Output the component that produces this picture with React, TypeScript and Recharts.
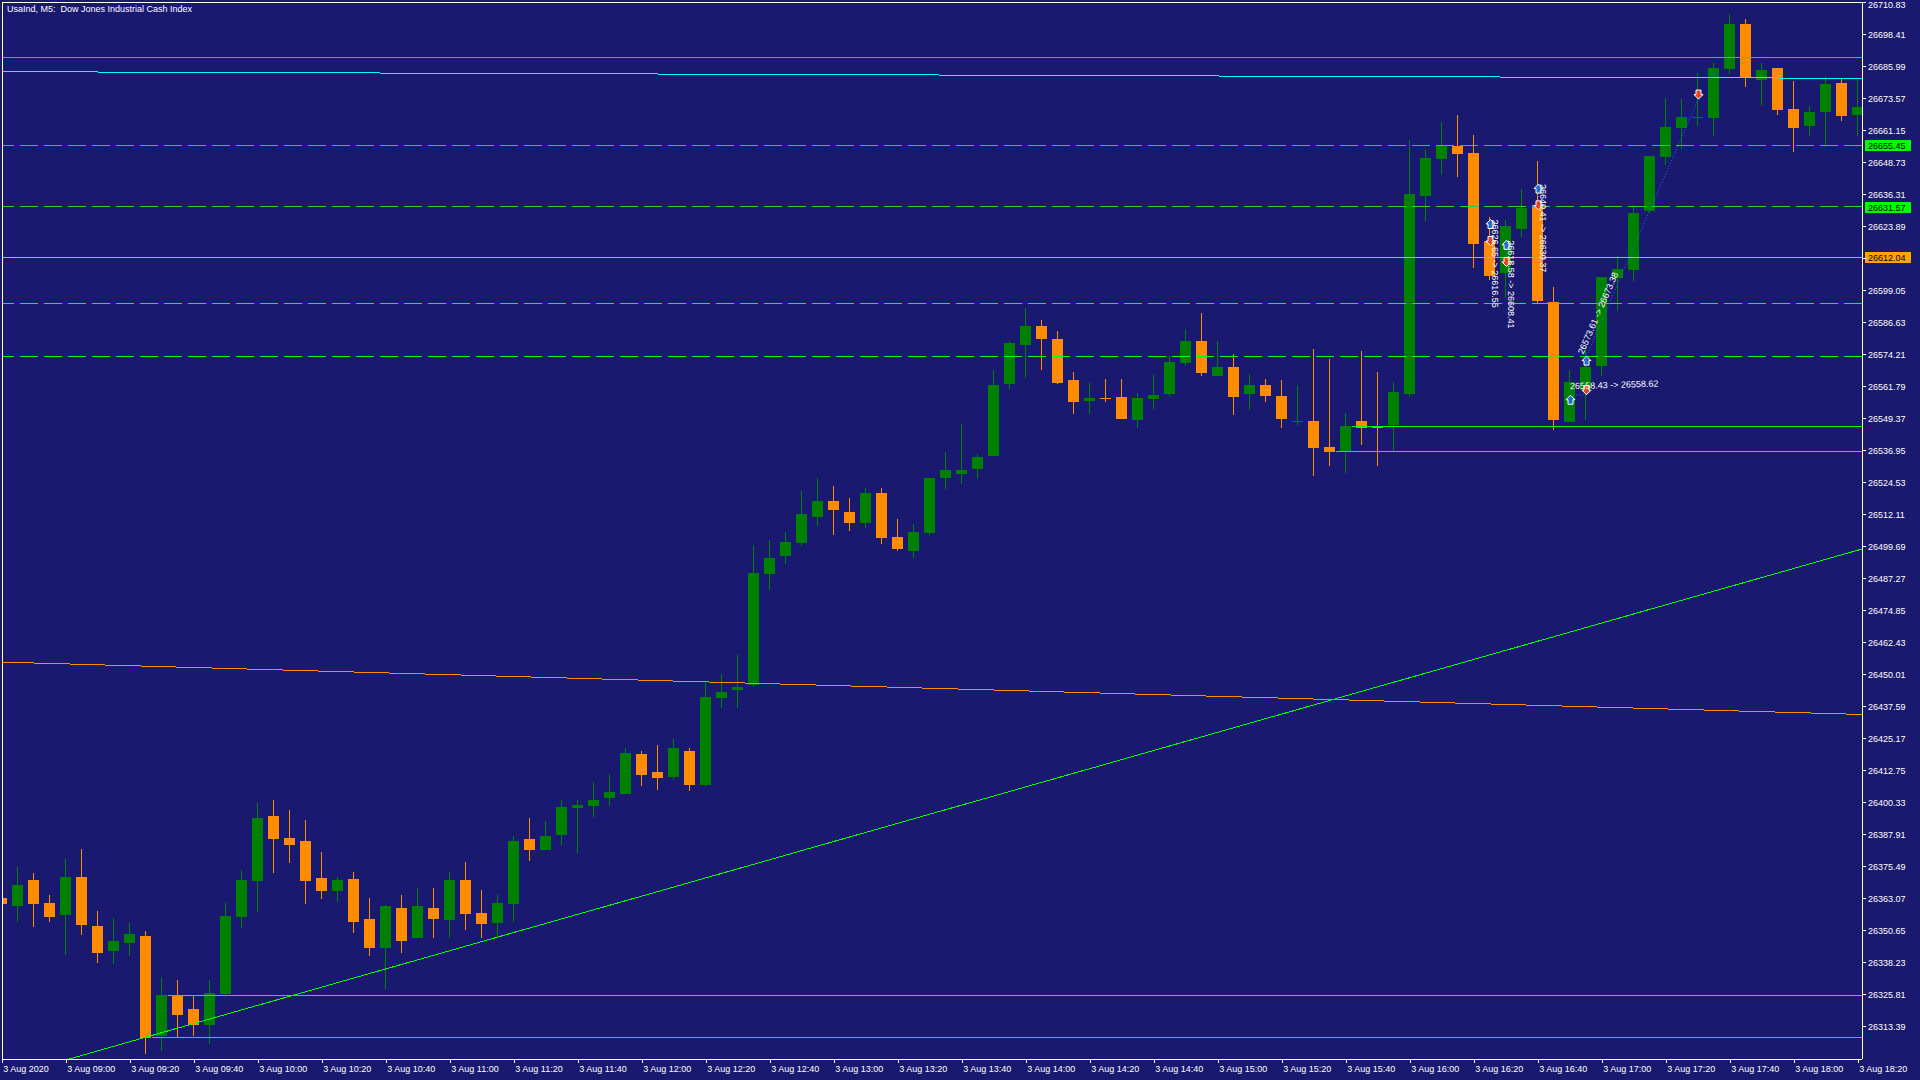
import React from 'react';
import { ComposedChart, Bar, XAxis, YAxis, ReferenceLine, ReferenceDot } from 'recharts';

const BG = '#191970';
const UP = '#008000';
const DOWN = '#FF8C00';
const FONT = '"Liberation Sans", Arial, sans-serif';
const LIME = '#32CD32';
const BRIGHT = '#00FF00';

// ---- candle data (M5 bars, 3 Aug 08:40 .. 18:20) ----
const opens = [
  26363.27, 26360.17, 26370.26, 26361.33, 26356.67, 26371.42, 26352.40, 26342.70, 26345.80, 26348.52,
  26309.70, 26325.35, 26320.18, 26313.97, 26326.01, 26355.90, 26369.87, 26395.22, 26386.56, 26385.40,
  26371.03, 26365.99, 26370.65, 26355.12, 26343.86, 26359.39, 26347.74, 26359.39, 26354.73, 26370.26,
  26357.45, 26353.68, 26361.06, 26386.17, 26382.02, 26387.84, 26398.32, 26399.10, 26402.20, 26403.76,
  26419.17, 26412.18, 26410.36, 26420.33, 26407.25, 26441.02, 26444.13, 26445.95, 26489.04, 26496.02,
  26501.07, 26511.16, 26517.37, 26513.10, 26508.83, 26520.48, 26503.40, 26497.97, 26504.95, 26526.30,
  26527.85, 26529.80, 26534.84, 26562.79, 26577.93, 26585.30, 26580.26, 26564.34, 26556.19, 26557.36,
  26557.74, 26548.82, 26556.97, 26558.91, 26570.94, 26579.48, 26565.89, 26569.39, 26558.91, 26562.40,
  26558.13, 26548.04, 26548.43, 26538.33, 26536.78, 26548.43, 26546.49, 26546.87, 26558.91, 26635.77,
  26650.13, 26655.17, 26652.46, 26618.30, 26605.88, 26622.96, 26632.27, 26594.62, 26548.04, 26560.46,
  26569.78, 26603.94, 26607.04, 26629.94, 26650.90, 26662.16, 26666.24, 26666.04, 26685.06, 26702.53,
  26680.79, 26685.45, 26669.54, 26662.94, 26668.37, 26679.63, 26667.21,
];
const highs = [
  26363.66, 26375.19, 26372.97, 26364.43, 26378.41, 26382.29, 26358.22, 26355.51, 26353.57, 26350.46,
  26332.61, 26331.44, 26325.35, 26331.44, 26361.21, 26374.14, 26400.15, 26401.31, 26397.43, 26393.55,
  26381.13, 26371.42, 26373.36, 26363.27, 26360.55, 26364.43, 26367.15, 26367.15, 26373.36, 26377.24,
  26366.38, 26364.43, 26387.34, 26394.32, 26393.16, 26401.31, 26401.31, 26408.30, 26411.40, 26421.50,
  26420.33, 26422.66, 26424.99, 26421.50, 26447.39, 26450.22, 26457.60, 26500.29, 26502.24, 26505.34,
  26521.26, 26526.30, 26523.20, 26518.54, 26522.42, 26522.42, 26510.39, 26508.45, 26526.30, 26536.39,
  26547.26, 26535.62, 26568.22, 26579.48, 26592.29, 26587.63, 26583.36, 26567.45, 26563.18, 26564.73,
  26564.73, 26559.30, 26566.28, 26573.66, 26584.14, 26590.35, 26579.48, 26574.43, 26566.67, 26564.73,
  26564.34, 26562.40, 26576.38, 26572.49, 26551.53, 26575.60, 26567.45, 26563.57, 26657.50, 26653.62,
  26664.49, 26667.21, 26659.44, 26627.61, 26626.45, 26638.48, 26649.35, 26600.44, 26568.22, 26577.15,
  26604.32, 26612.48, 26632.27, 26651.29, 26673.81, 26673.42, 26683.51, 26687.39, 26706.41, 26704.47,
  26687.39, 26685.45, 26680.40, 26670.70, 26682.35, 26681.57, 26680.79,
];
const lows = [
  26360.55, 26354.07, 26352.13, 26354.07, 26341.26, 26348.91, 26338.16, 26337.77, 26340.87, 26302.83,
  26304.00, 26309.04, 26309.70, 26306.71, 26324.84, 26351.63, 26357.84, 26372.97, 26376.86, 26360.94,
  26362.88, 26361.72, 26349.68, 26340.76, 26327.95, 26341.92, 26347.74, 26347.74, 26347.74, 26350.85,
  26347.86, 26348.25, 26354.07, 26377.75, 26382.02, 26383.96, 26380.85, 26394.83, 26399.10, 26403.76,
  26406.86, 26405.31, 26409.19, 26404.92, 26406.86, 26437.14, 26437.14, 26445.17, 26482.94, 26493.04,
  26499.91, 26507.67, 26504.18, 26505.73, 26506.89, 26500.68, 26497.97, 26495.25, 26504.18, 26522.03,
  26523.97, 26525.91, 26534.84, 26560.85, 26565.12, 26568.22, 26562.79, 26551.14, 26551.14, 26555.80,
  26549.20, 26545.71, 26553.09, 26558.13, 26569.78, 26565.89, 26565.89, 26550.76, 26552.70, 26555.80,
  26545.71, 26546.87, 26527.08, 26530.96, 26528.24, 26539.11, 26530.96, 26536.78, 26557.74, 26626.06,
  26643.92, 26643.14, 26607.82, 26603.16, 26596.17, 26619.85, 26593.84, 26544.93, 26548.04, 26548.82,
  26565.89, 26591.13, 26602.77, 26629.17, 26647.80, 26654.01, 26662.94, 26659.06, 26683.12, 26678.08,
  26671.09, 26667.21, 26652.84, 26659.06, 26654.79, 26664.88, 26659.06,
];
const closes = [
  26360.94, 26368.32, 26360.94, 26356.01, 26371.42, 26352.79, 26341.92, 26346.46, 26349.30, 26308.93,
  26325.62, 26317.85, 26313.97, 26326.39, 26356.28, 26370.26, 26394.32, 26386.17, 26383.84, 26369.87,
  26365.99, 26370.26, 26353.95, 26343.86, 26360.17, 26346.58, 26360.17, 26355.12, 26370.26, 26357.06,
  26353.29, 26361.33, 26385.40, 26382.02, 26387.34, 26398.59, 26399.37, 26401.31, 26404.42, 26419.56,
  26411.13, 26409.97, 26421.50, 26407.25, 26441.29, 26443.23, 26445.17, 26489.43, 26495.25, 26501.46,
  26512.33, 26517.37, 26513.88, 26508.83, 26520.48, 26503.01, 26498.74, 26505.34, 26526.30, 26529.41,
  26529.41, 26534.45, 26562.40, 26578.70, 26585.30, 26580.26, 26563.18, 26555.80, 26557.36, 26556.97,
  26549.20, 26557.36, 26558.52, 26571.33, 26579.48, 26567.06, 26569.39, 26557.74, 26562.40, 26558.13,
  26549.20, 26548.43, 26537.95, 26536.39, 26546.49, 26545.71, 26545.71, 26559.68, 26636.54, 26650.52,
  26655.17, 26652.07, 26617.13, 26604.71, 26624.12, 26631.11, 26595.01, 26548.82, 26563.57, 26569.39,
  26604.32, 26607.43, 26629.17, 26651.29, 26662.55, 26666.43, 26666.35, 26685.45, 26702.53, 26681.96,
  26684.67, 26669.15, 26662.16, 26668.37, 26679.24, 26666.82, 26670.31,
];

// ---- axes ----
const timeTickIdx = [0, 4, 8, 12, 16, 20, 24, 28, 32, 36, 40, 44, 48, 52, 56, 60, 64, 68, 72, 76, 80, 84, 88, 92, 96, 100, 104, 108, 112, 116];
const timeTickLabels = [
  '3 Aug 2020', '3 Aug 09:00', '3 Aug 09:20', '3 Aug 09:40', '3 Aug 10:00', '3 Aug 10:20', '3 Aug 10:40',
  '3 Aug 11:00', '3 Aug 11:20', '3 Aug 11:40', '3 Aug 12:00', '3 Aug 12:20', '3 Aug 12:40', '3 Aug 13:00',
  '3 Aug 13:20', '3 Aug 13:40', '3 Aug 14:00', '3 Aug 14:20', '3 Aug 14:40', '3 Aug 15:00', '3 Aug 15:20',
  '3 Aug 15:40', '3 Aug 16:00', '3 Aug 16:20', '3 Aug 16:40', '3 Aug 17:00', '3 Aug 17:20', '3 Aug 17:40',
  '3 Aug 18:00', '3 Aug 18:20',
];
const priceTicks = [
  26710.83, 26698.41, 26685.99, 26673.57, 26661.15, 26648.73, 26636.31, 26623.89, 26611.47, 26599.05,
  26586.63, 26574.21, 26561.79, 26549.37, 26536.95, 26524.53, 26512.11, 26499.69, 26487.27, 26474.85,
  26462.43, 26450.01, 26437.59, 26425.17, 26412.75, 26400.33, 26387.91, 26375.49, 26363.07, 26350.65,
  26338.23, 26325.81, 26313.39,
];
const X_MIN = -0.01875;
const X_MAX = 116.23125;
const Y_MIN = 26300.78;
const Y_MAX = 26711.07;

// ---- horizontal levels ----
const levelPrices = [26689.60, 26655.45, 26631.57, 26612.04, 26594.07, 26573.50];
const levelColors = [LIME, LIME, LIME, '#FFA500', BRIGHT, BRIGHT];
const levelDashed = [false, true, true, false, true, true];

const partialStart = [84.34, 83.34, 10.34, 9.34];
const partialPrices = [26546.37, 26536.66, 26325.50, 26309.20];

// boxed price labels on the axis
const boxPrices = [26655.45, 26631.57, 26612.04];
const boxColors = [BRIGHT, BRIGHT, '#FFA500'];

// ---- trend lines ----
const trendStartIdx = [4.175, X_MIN, X_MIN];
const trendStartPrice = [26300.78, 26454.84, 26684.03];
const trendEndIdx = [X_MAX, X_MAX, X_MAX];
const trendEndPrice = [26498.74, 26434.52, 26681.45];
const trendColors = [BRIGHT, DOWN, '#00FFFF'];

// ---- trades ----
const tradeOpenIdx = [93, 94, 96, 98, 99];
const tradeOpenPrice = [26626.65, 26618.58, 26640.41, 26558.43, 26573.61];
const tradeCloseIdx = [93, 94, 96, 99, 106];
const tradeClosePrice = [26616.55, 26608.41, 26630.37, 26558.62, 26673.38];

const data = opens.map((o, i) => ({
  idx: i,
  open: o,
  high: highs[i],
  low: lows[i],
  close: closes[i],
  range: [lows[i], highs[i]],
}));

const px = (v: number) => Math.floor(v + 0.01) + 0.5;

const Candle = (props: any) => {
  const { x, y, width, height, payload } = props;
  if (x == null || y == null || !payload) return null;
  const top = Math.min(y, y + height);
  const bot = Math.max(y, y + height);
  const span = payload.high - payload.low;
  const ppu = span > 0 ? (bot - top) / span : 0;
  const yO = top + (payload.high - payload.open) * ppu;
  const yC = top + (payload.high - payload.close) * ppu;
  const color = payload.close >= payload.open ? UP : DOWN;
  const cx = x + width / 2;
  const bx = Math.round(cx - 5.5);
  const wx = Math.floor(cx);
  const bTop = Math.round(Math.min(yO, yC));
  const bBot = Math.round(Math.max(yO, yC));
  const wTop = Math.round(top);
  const wBot = Math.round(bot);
  return (
    <g shapeRendering="crispEdges">
      <rect x={wx} y={wTop} width={1} height={Math.max(1, wBot - wTop)} fill={color} />
      <rect x={bx} y={bTop} width={11} height={Math.max(1, bBot - bTop)} fill={color} />
    </g>
  );
};

const hShape = (color: string, dash?: string) => (p: any) => {
  const y = px(p.y1);
  return (
    <line x1={p.x1} x2={p.x2} y1={y} y2={y} stroke={color} strokeWidth={1}
      strokeDasharray={dash} shapeRendering="crispEdges" />
  );
};
const vShape = (color: string) => (p: any) => {
  const x = px(p.x1);
  return <line x1={x} x2={x} y1={p.y1} y2={p.y2} stroke={color} strokeWidth={1} shapeRendering="crispEdges" />;
};
const dShape = (color: string) => (p: any) => (
  <line x1={p.x1} x2={p.x2} y1={p.y1} y2={p.y2} stroke={color} strokeWidth={1} shapeRendering="crispEdges" />
);

const upArrow = (x: number, y: number) =>
  `M${x},${y} l4.5,4.5 h-2 v4.5 h-5 v-4.5 h-2 z`;
const downArrow = (x: number, y: number) =>
  `M${x},${y} l4.5,-4.5 h-2 v-4.5 h-5 v4.5 h-2 z`;

const tradeShape = (label: string) => (p: any) => {
  const { x1, y1, x2, y2 } = p;
  const a = Math.atan2(y2 - y1, x2 - x1);
  const u = 1.5 + 4.5 * Math.abs(Math.cos(a));
  const tx = x1 + Math.sin(a) * u;
  const ty = y1 - Math.cos(a) * u;
  const ax1 = Math.floor(x1) + 0.5;
  const ax2 = Math.floor(x2) + 0.5;
  return (
    <g>
      <line x1={x1} y1={y1} x2={x2} y2={y2} stroke="#1E78E0" strokeWidth={1} strokeDasharray="1 2" />
      <path d={upArrow(ax1, y1)} fill="#1F6FC8" stroke="#FFFFFF" strokeWidth={1} />
      <path d={downArrow(ax2, y2)} fill="#E8401C" stroke="#FFFFFF" strokeWidth={1} />
      <text x={0} y={0} transform={`translate(${tx},${ty}) rotate(${(a * 180) / Math.PI})`}
        fill="#FFFFFF" fontSize={9} fontFamily={FONT}>{label}</text>
    </g>
  );
};

const XTick = (props: any) => {
  const { x, y, payload } = props;
  const k = timeTickIdx.indexOf(payload.value);
  const lx = Math.floor(x) + 0.5;
  return (
    <g>
      <line x1={lx} x2={lx} y1={y - 6} y2={y - 2} stroke="#FFFFFF" shapeRendering="crispEdges" />
      <text x={x + 1} y={y + 7} fill="#FFFFFF" fontSize={9} fontFamily={FONT} textAnchor="start">
        {k >= 0 ? timeTickLabels[k] : ''}
      </text>
    </g>
  );
};

const YTick = (props: any) => {
  const { x, y, payload } = props;
  const v = payload.value as number;
  const hidden = boxPrices.some((b) => Math.abs(b - v) < 3);
  const ly = Math.floor(y) + 0.5;
  return (
    <g>
      <line x1={x - 6} x2={x - 2} y1={ly} y2={ly} stroke="#FFFFFF" shapeRendering="crispEdges" />
      {!hidden && (
        <text x={x} y={Math.max(y + 3.3, 8)} fill="#FFFFFF" fontSize={9} fontFamily={FONT} textAnchor="start">
          {v.toFixed(2)}
        </text>
      )}
    </g>
  );
};

const boxShape = (price: number, color: string) => (p: any) => {
  const cy = Math.round(p.cy);
  return (
    <g>
      <rect x={p.cx + 3} y={cy - 5} width={46} height={11} fill={color} shapeRendering="crispEdges" />
      <text x={p.cx + 6} y={cy + 3.5} fill="#000000" fontSize={9} fontFamily={FONT}>{price.toFixed(2)}</text>
    </g>
  );
};

export default function App() {
  return (
    <div style={{ position: 'absolute', left: 0, top: 0, width: 1920, height: 1080, background: BG, overflow: 'hidden' }}>
      <ComposedChart width={1920} height={1080} data={data} margin={{ top: 2, right: 0, left: 2, bottom: 0 }}>
        <XAxis dataKey="idx" type="number" domain={[X_MIN, X_MAX]} ticks={timeTickIdx} interval={0}
          allowDataOverflow axisLine={false} tickLine={false} tickSize={4} tickMargin={2} height={21}
          tick={(p: any) => <XTick {...p} />} />
        <YAxis orientation="right" type="number" domain={[Y_MIN, Y_MAX]} ticks={priceTicks} interval={0}
          allowDataOverflow width={58} axisLine={false} tickLine={false} tickSize={4} tickMargin={2}
          tick={(p: any) => <YTick {...p} />} />
        <Bar dataKey="range" barSize={11} isAnimationActive={false} shape={(p: any) => <Candle {...p} />} />

        {levelPrices.map((lp, i) => (
          <ReferenceLine key={`lv${i}`} y={lp} ifOverflow="visible" zIndex={700}
            shape={hShape(levelColors[i], levelDashed[i] ? '18 6' : undefined)} />
        ))}
        {partialPrices.map((pp, i) => (
          <ReferenceLine key={`pl${i}`} ifOverflow="visible" zIndex={700}
            segment={[{ x: partialStart[i], y: pp }, { x: X_MAX, y: pp }]}
            shape={hShape(BRIGHT)} />
        ))}
        {trendStartIdx.map((sx, i) => (
          <ReferenceLine key={`tr${i}`} ifOverflow="visible" zIndex={700}
            segment={[{ x: sx, y: trendStartPrice[i] }, { x: trendEndIdx[i], y: trendEndPrice[i] }]}
            shape={dShape(trendColors[i])} />
        ))}

        {/* chart frame */}
        <ReferenceLine y={Y_MAX} ifOverflow="visible" zIndex={750} shape={hShape('#FFFFFF')} />
        <ReferenceLine y={Y_MIN} ifOverflow="visible" zIndex={750} shape={hShape('#FFFFFF')} />
        <ReferenceLine x={X_MIN} ifOverflow="visible" zIndex={750} shape={vShape('#FFFFFF')} />
        <ReferenceLine x={X_MAX} ifOverflow="visible" zIndex={750} shape={vShape('#FFFFFF')} />

        {tradeOpenIdx.map((oi, i) => (
          <ReferenceLine key={`td${i}`} ifOverflow="visible" zIndex={800}
            segment={[{ x: oi, y: tradeOpenPrice[i] }, { x: tradeCloseIdx[i], y: tradeClosePrice[i] }]}
            shape={tradeShape(`${tradeOpenPrice[i].toFixed(2)} -> ${tradeClosePrice[i].toFixed(2)}`)} />
        ))}

        {boxPrices.map((bp, i) => (
          <ReferenceDot key={`bx${i}`} x={X_MAX} y={bp} r={1} ifOverflow="visible" zIndex={900}
            shape={boxShape(bp, boxColors[i])} />
        ))}
      </ComposedChart>
      <div style={{ position: 'absolute', left: 7, top: 4, fontFamily: FONT, fontSize: 9, lineHeight: '10px', color: '#FFFFFF', whiteSpace: 'pre' }}>
        {'UsaInd, M5:  Dow Jones Industrial Cash Index'}
      </div>
    </div>
  );
}
